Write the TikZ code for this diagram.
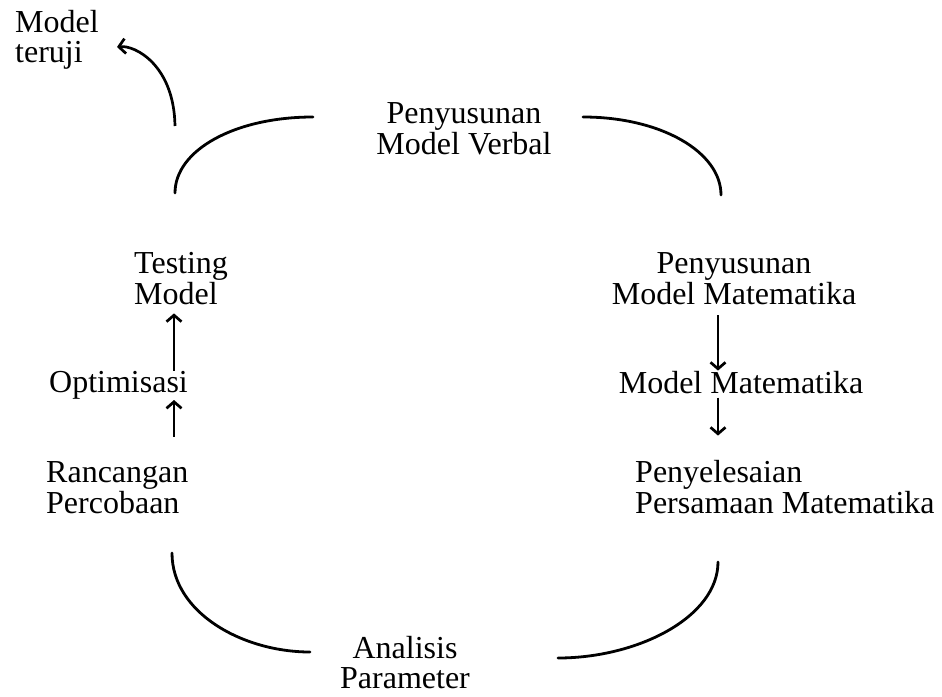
\documentclass[tikz,border=0pt]{standalone}
\usepackage{fontspec}
\setmainfont{Liberation Serif}
\usetikzlibrary{arrows.meta}
% two-line labels whose baseline is that of the first line
\newcommand{\twoL}[2]{\begin{tabular}[t]{@{}l@{}}#1\\#2\end{tabular}}
\newcommand{\twoC}[2]{\begin{tabular}[t]{@{}c@{}}#1\\#2\end{tabular}}
% same, with the box ending on the second baseline
\newcommand{\twoCflat}[2]{\raisebox{0pt}[\height][30pt]{\twoC{#1}{#2}}}
\begin{document}
\begin{tikzpicture}[x=1pt,y=-1pt,
  label/.style={inner sep=0pt,font=\fontsize{32}{30}\selectfont},
  cycle/.style={line width=2.8pt,line cap=round},
  flow/.style={line width=2.7pt,-{Straight Barb[length=6.5pt,width=15pt]}}]
\useasboundingbox (0,0) rectangle (942,696);

% labels
\node[label,anchor=base west] (teruji)   at (15,32)  {\twoL{Model}{teruji}};
\node[label,anchor=base]      (verbal)   at (464,123) {\twoC{Penyusunan}{Model Verbal}};
\node[label,anchor=base west] (testing)  at (134,273) {\twoL{Testing}{Model}};
\node[label,anchor=base west] (opt)      at (49,392) {Optimisasi};
\node[label,anchor=base west] (rancang)  at (46,482) {\twoL{Rancangan}{Percobaan}};
\node[label,anchor=base]      (matpen)   at (734,273) {\twoC{Penyusunan}{Model Matematika}};
\node[label,anchor=base]      (matmod)   at (741,393) {Model Matematika};
\node[label,anchor=base west] (penyel)   at (635,482) {\twoL{Penyelesaian}{Persamaan Matematika}};
\node[label,anchor=base]      (analisis) at (405,658) {\twoCflat{Analisis}{Parameter}};

% columns of the straight arrows
\coordinate (leftcol)  at (174,0);
\coordinate (rightcol) at (718,0);

% left column: Rancangan -> Optimisasi -> Testing
\draw[flow,shorten <=24pt,shorten >=1pt] (leftcol |- rancang.north) -- (leftcol |- opt.south);
\draw[flow,shorten >=0pt] (leftcol |- opt.north) -- (leftcol |- testing.south);

% right column: Penyusunan -> Model Matematika -> Penyelesaian
\draw[flow,shorten <=2pt] (rightcol |- matpen.south) -- (rightcol |- matmod.north);
\draw[flow,shorten <=4pt,shorten >=24pt] (rightcol |- matmod.south) -- (rightcol |- penyel.north);

% ends of the cycle arcs
\coordinate (tlA) at (175,193); \coordinate (tlB) at (313,117);
\coordinate (trA) at (583,117); \coordinate (trB) at (721,195);
\coordinate (brA) at (718,562); \coordinate (brB) at (558,658);
\coordinate (blA) at (310,652); \coordinate (blB) at (172,553);

% cycle arcs
\draw[cycle] (tlA) .. controls (175,150) and (235,117) .. (tlB);
\draw[cycle] (trA) .. controls (661,117) and (721,152) .. (trB);
\draw[cycle] (brA) .. controls (718,617) and (638,658) .. (brB);
\draw[cycle] (blA) .. controls (243,652) and (172,613) .. (blB);

% exit arrow towards the tested model
\coordinate (exitA) at (175,126);
\coordinate (exitB) at (117,47);
\draw[flow] (exitA) .. controls (174,65) and (135,45) .. (exitB);
\end{tikzpicture}
\end{document}
